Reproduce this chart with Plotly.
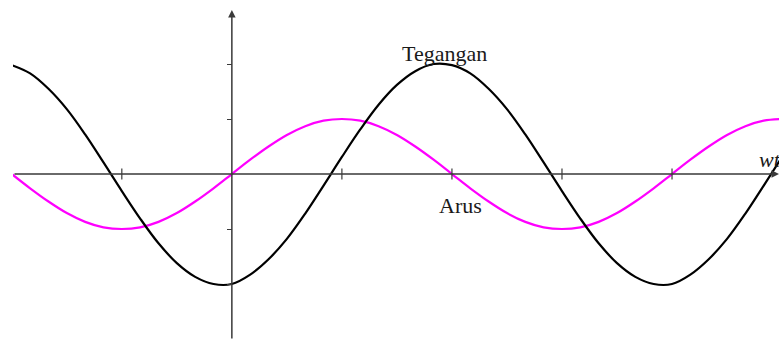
import plotly.graph_objects as go

# Phase angle (degrees), sampled every 15 degrees
theta = list(range(-180, 451, 15))
# Arus (current)
arus = [0, -0.26, -0.5, -0.71, -0.87, -0.97, -1, -0.97, -0.87, -0.71, -0.5, -0.26,
        0, 0.26, 0.5, 0.71, 0.87, 0.97, 1, 0.97, 0.87, 0.71, 0.5, 0.26,
        0, -0.26, -0.5, -0.71, -0.87, -0.97, -1, -0.97, -0.87, -0.71, -0.5, -0.26,
        0, 0.26, 0.5, 0.71, 0.87, 0.97, 1]
# Tegangan (voltage)
tegangan = [1.98, 1.83, 1.55, 1.18, 0.72, 0.21, -0.31, -0.81, -1.26, -1.62, -1.87,
            -2.0, -2.0, -1.83, -1.55, -1.18, -0.72, -0.21, 0.31, 0.81, 1.26, 1.62,
            1.87, 2.0, 1.98, 1.83, 1.55, 1.18, 0.72, 0.21, -0.31, -0.81, -1.26,
            -1.62, -1.87, -2.0, -2.0, -1.83, -1.55, -1.18, -0.72, -0.21, 0.31]

x_ticks = [-90, 90, 180, 270, 360]
y_ticks = [-2, -1, 1, 2]

W, H = 779, 340
X_RANGE = [-179, 447.5]
Y_RANGE = [-3.018, 3.164]
AX = "#3a3a3a"

fig = go.Figure()

fig.add_trace(go.Scatter(x=theta, y=arus, mode="lines", line_shape="spline",
                         line=dict(color="#ff00ff", width=2.2), hoverinfo="skip"))
fig.add_trace(go.Scatter(x=theta, y=tegangan, mode="lines", line_shape="spline",
                         line=dict(color="#000000", width=2.2), hoverinfo="skip"))
fig.add_trace(go.Scatter(x=x_ticks, y=[0] * len(x_ticks), mode="markers",
                         marker=dict(symbol="line-ns", size=8,
                                     line=dict(color=AX, width=1.2)),
                         hoverinfo="skip"))

# axes drawn as arrows
fig.add_annotation(x=X_RANGE[1], y=0, ax=X_RANGE[0], ay=0, xref="x", yref="y",
                   axref="x", ayref="y", text="", showarrow=True, arrowhead=2,
                   arrowsize=1, arrowwidth=1.5, arrowcolor=AX, standoff=0)
fig.add_annotation(x=0, y=2.98, ax=0, ay=Y_RANGE[0], xref="x", yref="y",
                   axref="x", ayref="y", text="", showarrow=True, arrowhead=2,
                   arrowsize=1, arrowwidth=1.5, arrowcolor=AX, standoff=0)

serif = "Liberation Serif, Times New Roman, serif"
fig.add_annotation(x=174.3, y=2.2, xref="x", yref="y", text="Tegangan",
                   showarrow=False, font=dict(family=serif, size=22, color="#1a1a1a"),
                   xanchor="center", yanchor="middle")
fig.add_annotation(x=187.4, y=-0.58, xref="x", yref="y", text="Arus",
                   showarrow=False, font=dict(family=serif, size=22, color="#1a1a1a"),
                   xanchor="center", yanchor="middle")
fig.add_annotation(x=429.5, y=0.27, xref="x", yref="y", text="<i>wt</i>",
                   showarrow=False, font=dict(family=serif, size=22, color="#1a1a1a"),
                   xanchor="left", yanchor="middle")

fig.update_layout(
    width=W, height=H,
    margin=dict(l=0, r=0, t=0, b=0),
    paper_bgcolor="white", plot_bgcolor="white",
    showlegend=False,
    xaxis=dict(range=X_RANGE, domain=[13 / W, 1], showgrid=False, zeroline=False,
               showline=False, showticklabels=False, ticks=""),
    yaxis=dict(range=Y_RANGE, domain=[0, 1], anchor="free", position=232 / W,
               showgrid=False, zeroline=False, showline=False,
               showticklabels=False, ticks="outside", ticklen=5, tickwidth=1.2,
               tickcolor=AX, tickmode="array", tickvals=y_ticks),
)

fig.write_html("out.html", config={"displayModeBar": False},
               post_script="document.body.style.margin='0';"
                           "document.body.style.overflow='hidden';")
